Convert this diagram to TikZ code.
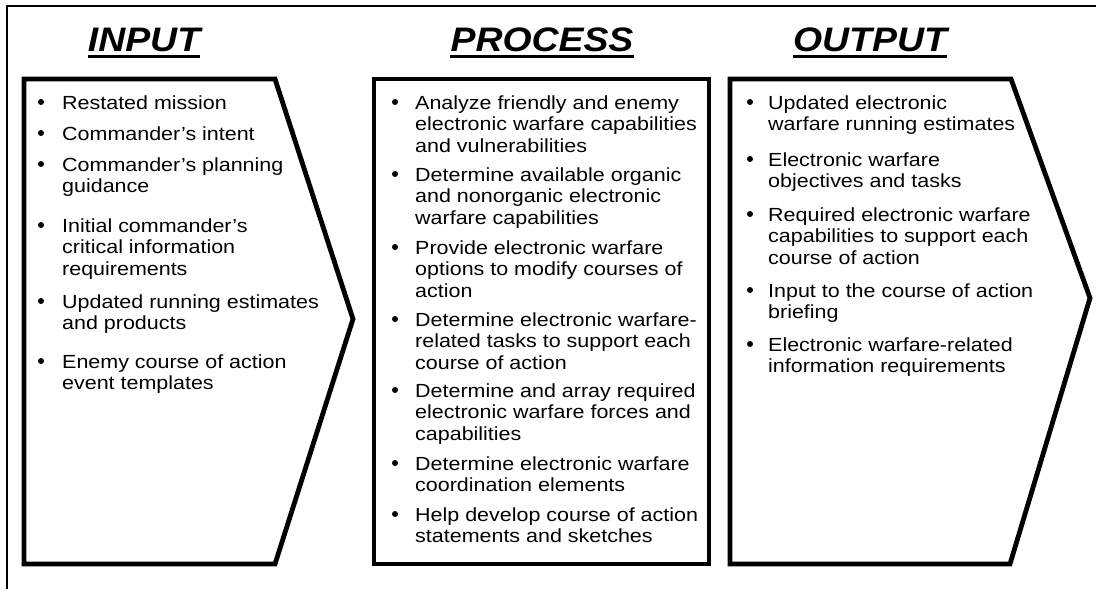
\documentclass[tikz,border=0pt]{standalone}
\usepackage{fontspec}
\setmainfont{Liberation Sans}
\newfontfamily\bodyfont[FakeStretch=1.13]{Liberation Sans}
\newfontfamily\titlefont[FakeStretch=1.1]{Liberation Sans}
\newcommand\itemlines[1]{\parbox[t]{330pt}{\raggedright #1}}
\tikzset{
  frameline/.style={draw=black, line width=2pt},
  arrowbox/.style={draw=black, line width=4.8pt, line join=miter, miter limit=10},
  titletext/.style={font=\titlefont\bfseries\itshape\fontsize{34}{40}\selectfont, inner sep=0pt, anchor=base},
  uline/.style={draw=black, line width=2.6pt},
  itemtext/.style={font=\bodyfont\fontsize{19}{21.5}\selectfont, inner sep=0pt, anchor=base west},
  bulletmark/.style={circle, fill=black, inner sep=0pt, minimum size=6pt, yshift=7pt}
}
\begin{document}
\begin{tikzpicture}[x=1pt,y=-1pt]
\useasboundingbox (0,0) rectangle (1096,589);
% outer frame (top and left only)
\draw[frameline] (7,589) -- (7,6) -- (1096,6);

% boxes
\draw[arrowbox] (24,79) -- (275,79) -- (353,319) -- (275,564) -- (24,564) -- cycle;
\draw[arrowbox] (374,79) rectangle (709,564);
\draw[arrowbox] (730,79) -- (1011,79) -- (1090,298) -- (1010,564) -- (730,564) -- cycle;

% titles
\node[titletext] (tin) at (144,51) {INPUT};
\node[titletext] (tpr) at (542,51) {PROCESS};
\node[titletext] (tout) at (870,51) {OUTPUT};
\draw[uline] ([yshift=-5.5pt]tin.base west) -- ([yshift=-5.5pt]tin.base east);
\draw[uline] ([yshift=-5.5pt]tpr.base west) -- ([yshift=-5.5pt]tpr.base east);
\draw[uline] ([yshift=-5.5pt]tout.base west) -- ([yshift=-5.5pt]tout.base east);

% INPUT items
\foreach \yy/\nm in {109/a,140/b,171/c,232/d,308/e,368/f}
  \node[bulletmark] (ib\nm) at (41,\yy) {};
\node[itemtext] (ia) at (62,109) {\itemlines{Restated mission}};
\node[itemtext] (ib) at (62,140) {\itemlines{Commander’s intent}};
\node[itemtext] (ic) at (62,171) {\itemlines{Commander’s planning\\guidance}};
\node[itemtext] (id) at (62,232) {\itemlines{Initial commander’s\\critical information\\requirements}};
\node[itemtext] (ie) at (62,308) {\itemlines{Updated running estimates\\and products}};
\node[itemtext] (if) at (62,368) {\itemlines{Enemy course of action\\event templates}};

% PROCESS items
\foreach \yy/\nm in {109/a,181/b,254/c,326/d,397/e,470/f,521/g}
  \node[bulletmark] (pb\nm) at (395,\yy) {};
\node[itemtext] (pa) at (415,109) {\itemlines{Analyze friendly and enemy\\electronic warfare capabilities\\and vulnerabilities}};
\node[itemtext] (pb) at (415,181) {\itemlines{Determine available organic\\and nonorganic electronic\\warfare capabilities}};
\node[itemtext] (pc) at (415,254) {\itemlines{Provide electronic warfare\\options to modify courses of\\action}};
\node[itemtext] (pd) at (415,326) {\itemlines{Determine electronic warfare-\\related tasks to support each\\course of action}};
\node[itemtext] (pe) at (415,397) {\itemlines{Determine and array required\\electronic warfare forces and\\capabilities}};
\node[itemtext] (pf) at (415,470) {\itemlines{Determine electronic warfare\\coordination elements}};
\node[itemtext] (pg) at (415,521) {\itemlines{Help develop course of action\\statements and sketches}};

% OUTPUT items
\foreach \yy/\nm in {109/a,166/b,221/c,297/d,351/e}
  \node[bulletmark] (ob\nm) at (750,\yy) {};
\node[itemtext] (oa) at (768,109) {\itemlines{Updated electronic\\warfare running estimates}};
\node[itemtext] (ob) at (768,166) {\itemlines{Electronic warfare\\objectives and tasks}};
\node[itemtext] (oc) at (768,221) {\itemlines{Required electronic warfare\\capabilities to support each\\course of action}};
\node[itemtext] (od) at (768,297) {\itemlines{Input to the course of action\\briefing}};
\node[itemtext] (oe) at (768,351) {\itemlines{Electronic warfare-related\\information requirements}};
\end{tikzpicture}
\end{document}
